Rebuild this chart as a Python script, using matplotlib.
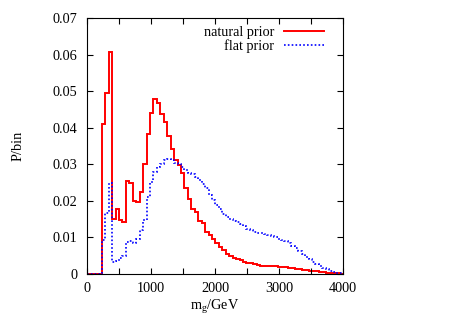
import numpy as np
import matplotlib
matplotlib.use("Agg")
import matplotlib.pyplot as plt

# binning of the histograms (GeV)
bin_lo = 230.0
bin_hi = 4000.0
n_bins = 70

natural_prior = [
    0.0410, 0.0494, 0.0606, 0.0150, 0.0179, 0.0147, 0.0142, 0.0253, 0.0250, 0.0200,
    0.0197, 0.0224, 0.0300, 0.0384, 0.0441, 0.0478, 0.0468, 0.0438, 0.0415, 0.0376,
    0.0341, 0.0313, 0.0297, 0.0275, 0.0234, 0.0206, 0.0179, 0.0170, 0.0145, 0.0140,
    0.0115, 0.0108, 0.0095, 0.0084, 0.0074, 0.0065, 0.0056, 0.0050, 0.0045, 0.0041,
    0.0037, 0.0034, 0.0031, 0.0029, 0.0027, 0.0024, 0.0023, 0.0022, 0.0022, 0.0022,
    0.0021, 0.0020, 0.0019, 0.0018, 0.0017, 0.0016, 0.0014, 0.0013, 0.0012, 0.0011,
    0.0009, 0.0008, 0.0007, 0.0006, 0.0005, 0.0004, 0.0003, 0.0002, 0.0002, 0.0001,
]

flat_prior = [
    0.0093, 0.0167, 0.0249, 0.0033, 0.0036, 0.0043, 0.0050, 0.0088, 0.0090, 0.0085,
    0.0097, 0.0120, 0.0147, 0.0210, 0.0252, 0.0279, 0.0293, 0.0302, 0.0313, 0.0314,
    0.0313, 0.0304, 0.0300, 0.0293, 0.0285, 0.0276, 0.0273, 0.0266, 0.0256, 0.0247,
    0.0235, 0.0215, 0.0203, 0.0188, 0.0178, 0.0165, 0.0156, 0.0150, 0.0145, 0.0141,
    0.0136, 0.0131, 0.0124, 0.0120, 0.0115, 0.0112, 0.0111, 0.0110, 0.0108, 0.0104,
    0.0100, 0.0097, 0.0092, 0.0089, 0.0085, 0.0077, 0.0070, 0.0062, 0.0055, 0.0047,
    0.0041, 0.0034, 0.0028, 0.0022, 0.0017, 0.0013, 0.0009, 0.0006, 0.0004, 0.0002,
]

x_ticks = [0, 1000, 2000, 3000, 4000]
x_minor = [500, 1500, 2500, 3500]
y_ticks = [0, 0.01, 0.02, 0.03, 0.04, 0.05, 0.06, 0.07]
y_ticklabels = ["0", "0.01", "0.02", "0.03", "0.04", "0.05", "0.06", "0.07"]

plt.rcParams['font.family'] = ['Liberation Serif', 'DejaVu Serif']
plt.rcParams['mathtext.fontset'] = 'custom'
plt.rcParams['mathtext.rm'] = 'Liberation Serif'
plt.rcParams['mathtext.it'] = 'Liberation Serif:italic'

fig = plt.figure(figsize=(4.57, 3.2), dpi=100)
ax = fig.add_axes([87 / 457, 46 / 320, 256 / 457, 256 / 320])

edges = np.linspace(bin_lo, bin_hi, n_bins + 1)
full_edges = np.concatenate([[0.0], edges])

ax.stairs(np.concatenate([[0.0], natural_prior]), full_edges, color='#ff0000',
          lw=1.4, label='natural prior', baseline=None)
ax.stairs(np.concatenate([[0.0], flat_prior]), full_edges, color='#0000ff',
          lw=1.2, ls=(0, (1, 1.3)), label='flat prior', baseline=None)

ax.set_xlim(0, 4000)
ax.set_ylim(0, 0.07)
ax.set_xticks(x_ticks)
ax.set_xticks(x_minor, minor=True)
ax.set_yticks(y_ticks)
ax.set_yticklabels(y_ticklabels)

ax.tick_params(axis='both', which='both', direction='in', top=True, right=True,
               length=4, width=0.8, labelsize=10.3)
ax.tick_params(axis='x', which='major', pad=6)
ax.tick_params(axis='y', which='major', pad=7)
for s in ax.spines.values():
    s.set_linewidth(0.8)

ax.set_xlabel('m$_\\mathregular{g}$/GeV', fontsize=10.3, labelpad=2)
ax.set_ylabel('P/bin', fontsize=10.3, labelpad=20)

leg = ax.legend(loc='upper right', frameon=False, markerfirst=False, fontsize=10.3,
                handlelength=2.8, handletextpad=0.7, labelspacing=0.05,
                borderpad=0.0, borderaxespad=0.0, bbox_to_anchor=(0.926, 0.97))

fig.savefig('out.png', dpi=100)
